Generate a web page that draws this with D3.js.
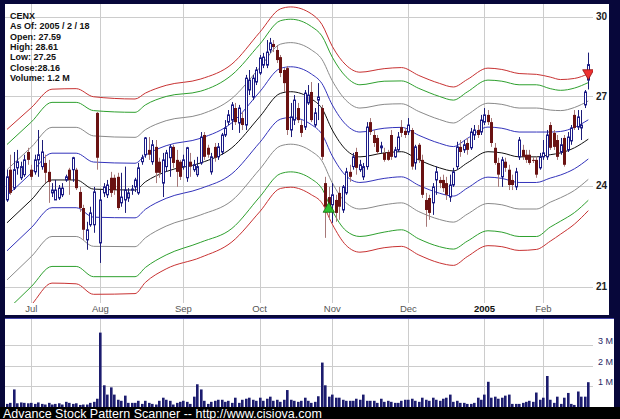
<!DOCTYPE html>
<html><head><meta charset="utf-8">
<script src="https://cdn.jsdelivr.net/npm/d3@7"></script>
<style>html,body{margin:0;padding:0;background:#000;}svg{display:block}</style>
</head><body>
<svg id="chart" width="620" height="419"></svg>
<script>
// ---- data ----
const header = ["CENX","As Of: 2005 / 2 / 18","Open: 27.59","High: 28.61","Low: 27.25","Close:28.16","Volume: 1.2 M"];
const open  = [23.55,24.51,23.92,24.57,24.25,24.35,25.09,24.51,24.44,24.83,24.61,24.73,24.44,23.77,23.55,23.61,23.71,24.18,24.51,24.51,24.51,23.80,23.30,22.34,22.79,22.79,26.42,22.25,23.77,23.71,24.25,24.25,24.28,23.46,23.55,23.61,23.86,23.96,23.77,24.77,25.00,25.16,24.77,25.26,24.77,24.08,24.61,24.90,25.26,24.83,24.77,24.61,24.25,24.77,24.51,24.35,24.73,25.66,25.23,24.44,25.26,24.93,25.09,25.66,26.10,26.17,26.59,26.07,26.24,26.00,27.23,26.98,27.52,27.85,28.14,28.14,28.71,28.94,28.71,28.44,27.96,28.03,25.83,26.17,26.59,26.00,25.93,26.77,27.16,26.00,26.87,26.59,24.08,23.64,23.40,23.55,23.77,23.24,23.77,24.44,24.61,25.09,24.51,24.28,24.61,26.10,25.66,25.56,25.23,25.06,25.09,25.66,24.93,25.16,25.93,25.80,25.76,25.83,24.73,25.33,24.83,23.55,23.61,23.46,24.18,24.18,24.18,24.08,23.64,24.02,24.61,25.26,25.16,25.39,25.23,25.66,25.83,25.76,26.10,26.35,26.10,25.23,24.73,24.28,24.77,24.51,24.18,23.96,24.93,25.16,25.00,25.00,24.83,24.83,24.57,24.93,24.93,26.00,25.73,25.49,25.09,25.56,25.16,25.46,26.35,25.93,25.90,26.70,27.59];
const high  = [24.51,25.00,25.09,25.16,24.77,25.00,25.23,24.67,25.00,25.83,25.49,25.00,24.83,24.08,24.18,24.02,24.08,24.35,24.57,24.93,24.57,23.96,23.40,22.88,23.34,23.96,26.45,23.86,24.08,24.18,24.44,24.35,24.41,24.41,24.61,23.92,24.02,24.25,24.73,25.00,25.59,25.59,25.49,25.49,24.90,25.06,25.16,25.33,25.33,25.16,24.83,25.00,25.26,25.06,24.83,24.93,25.76,25.76,25.33,25.06,25.39,25.39,25.73,26.17,26.52,26.80,26.77,26.70,26.45,27.78,27.96,27.78,28.07,28.52,28.60,29.09,29.17,29.09,28.90,28.52,28.03,28.11,26.77,27.05,26.77,26.17,27.23,27.41,27.52,26.59,27.48,26.70,24.28,23.96,24.08,23.71,23.96,24.02,24.57,24.67,25.06,25.23,24.83,24.73,26.10,26.24,25.83,25.66,25.43,25.23,25.16,25.83,25.26,25.76,26.17,25.90,26.24,25.90,25.33,25.39,25.00,23.77,23.71,24.08,24.61,24.28,24.35,24.28,24.35,24.57,25.43,25.49,25.49,25.56,25.90,26.00,26.00,26.35,26.59,26.52,26.24,25.39,24.90,24.93,24.90,24.67,24.35,24.57,25.59,25.33,25.16,25.16,24.93,24.93,25.06,25.49,25.83,26.10,25.83,25.66,25.56,25.66,25.76,26.00,26.52,26.52,26.52,27.23,28.61];
const low   = [23.49,23.71,23.86,24.35,24.18,24.28,24.67,24.18,24.35,24.28,24.51,24.08,23.46,23.64,23.55,23.55,23.64,24.12,23.71,24.12,23.86,23.18,22.34,22.05,22.73,22.55,24.51,21.67,23.64,23.61,23.64,23.71,23.24,23.34,23.15,23.49,23.71,23.80,23.71,24.67,24.90,24.83,24.67,24.08,24.25,23.64,24.44,24.28,24.57,23.96,24.18,24.51,24.12,24.28,24.44,24.28,24.67,24.83,24.90,24.35,24.77,24.83,25.00,25.59,26.00,25.83,26.00,25.73,25.83,25.83,27.05,26.87,27.41,27.78,28.03,28.03,28.60,28.63,28.22,27.70,27.16,25.66,25.59,26.00,26.07,25.59,25.83,26.70,26.10,25.93,26.17,24.83,22.40,22.94,22.85,22.88,22.94,23.15,23.71,24.12,24.51,24.35,24.44,24.18,24.51,25.66,25.26,25.00,25.06,24.77,24.80,24.83,24.90,25.09,25.59,25.56,25.66,24.51,24.51,24.73,23.61,22.73,22.94,23.09,23.71,23.92,23.80,23.55,23.49,23.96,24.51,24.93,25.06,25.00,25.16,25.49,25.56,25.66,26.00,26.00,25.26,24.67,23.96,23.96,24.44,23.86,23.86,23.86,24.83,24.83,24.73,24.67,24.73,24.25,24.51,24.83,24.83,25.16,25.16,24.83,25.00,24.61,25.09,25.33,25.83,25.83,25.49,26.59,27.25];
const close = [24.28,23.77,24.51,24.77,24.61,24.83,24.83,24.28,24.83,25.00,25.09,24.41,24.12,23.86,23.86,23.92,23.92,24.28,24.18,24.90,23.92,23.30,22.64,22.64,23.15,23.80,24.90,23.55,23.96,24.02,23.77,23.86,23.30,23.64,23.86,23.77,23.89,24.18,24.57,24.90,25.56,25.00,25.33,24.41,24.41,24.83,25.06,25.26,24.73,24.44,24.28,24.83,25.23,24.61,24.67,24.61,25.59,24.93,25.00,24.93,24.90,25.26,25.66,25.90,26.35,26.70,26.10,26.59,26.00,27.66,27.59,27.66,27.96,28.41,28.44,28.63,28.98,28.82,28.33,27.85,27.48,25.83,26.28,26.87,26.17,25.73,27.12,27.05,26.17,26.42,26.98,24.93,23.34,23.24,23.71,23.15,23.34,23.96,24.44,24.28,24.93,24.57,24.67,24.61,25.93,25.76,25.39,25.09,25.29,24.83,24.83,24.93,25.16,25.59,25.73,25.66,26.00,24.61,25.26,24.83,23.71,23.24,23.15,23.96,24.44,24.08,23.92,23.71,24.02,24.44,25.26,25.09,25.33,25.16,25.76,25.83,25.66,26.17,26.35,26.10,25.39,24.73,24.35,24.83,24.57,24.02,24.02,24.44,25.49,24.93,24.83,24.73,24.80,24.35,24.93,25.06,25.66,25.23,25.26,24.93,25.33,24.67,25.59,25.90,25.90,26.28,26.00,27.16,28.16];
const volume = [0.15,0.2,0.85,0.18,0.22,0.2,0.18,0.2,0.15,0.22, 0.15,0.12,0.2,0.12,0.15,0.18,0.12,0.25,0.2,0.15, 0.18,0.1,0.12,0.12,0.2,0.25,0.4,3.6,1.05,0.6, 0.95,0.6,0.35,0.3,0.55,0.2,0.2,0.2,0.3,0.15, 0.3,0.2,0.15,0.12,0.3,0.45,0.35,0.3,0.12,0.2, 0.25,0.3,0.25,0.15,0.5,1.1,0.85,0.3,0.15,0.25, 0.3,0.35,0.35,0.25,0.3,0.2,0.45,0.2,0.35,0.4, 0.45,0.35,0.3,0.45,0.3,0.4,0.5,0.3,0.35,0.25, 0.35,0.82,0.35,0.3,0.25,0.3,0.45,0.3,0.2,0.25, 0.52,2.15,1.05,0.5,0.6,0.45,0.45,0.35,0.3,0.3, 0.3,0.4,0.35,0.6,0.3,0.3,0.3,0.2,0.4,0.25, 0.3,0.25,0.2,0.2,0.3,0.35,0.35,0.4,0.3,0.25, 0.45,0.35,0.3,0.45,0.35,0.3,0.4,0.45,0.6,0.25, 0.3,0.2,0.2,0.15,0.15,0.2,0.45,0.35,0.6,1.22, 0.45,0.5,0.4,0.45,0.55,0.6,0.15,0.15,0.15,0.2, 0.25,0.3,0.25,0.7,0.35,0.45,1.5,0.35,0.2,0.5, 0.15,0.45,0.68,0.15,0.1,0.75,0.5,0.5,1.2];
const monthLabels = ["Jul","Aug","Sep","Oct","Nov","Dec","2005","Feb"];
const monthStart  = [7,27,51,73,94,116,138,155];
const priceTicks  = [21,24,27,30];
const volumeTicks = [1,2,3];
// envelope indicator (centre line, unit deviation, outer deviation) sampled along the days
const bandIdx   = [0,7,13,20,25,37,40,46,56,65,73,79,82,88,91,94,98,102,109,114,119,125,129,133,139,143,148,153,157,160,164,168];
const bandMid   = [22.85,23.55,24.18,24.18,23.89,23.86,24.12,24.45,24.73,25.23,26.28,27.11,27.17,26.91,26.58,25.83,25.16,24.93,25.06,25.10,24.83,24.57,24.47,24.73,25.10,25.06,24.93,24.93,25.00,25.06,25.23,25.52];
const bandDev   = [.83,.85,.87,.87,.87,.86,.86,.85,.82,.85,.88,.91,.91,.90,.89,.87,.85,.83,.83,.82,.82,.81,.80,.81,.83,.83,.83,.83,.76,.72,.69,.66];
const bandOuter = [3.0,3.05,3.08,3.1,3.1,3.05,3.0,2.95,2.9,2.95,3.1,3.2,3.22,3.2,3.12,3.02,2.98,2.95,2.95,2.95,2.93,2.9,2.87,2.88,2.93,2.92,2.9,2.87,2.7,2.55,2.42,2.3];
const signalIdx   = [93,168];
const signalPrice = [23.27,27.85];
const signalDir   = ["up","down"];
const footer = "Advance Stock Pattern Scanner -- http://www.cisiova.com";

// ---- drawing ----
const svg = d3.select("#chart");
const FONT = "Arial, 'Liberation Sans', sans-serif";
const n = close.length;
const x = d3.scaleLinear().domain([0, n-1]).range([7, 588.3]);
const y = d3.scaleLog().domain([21,30]).range([286.7,16.7]);
const yv = d3.scaleLinear().domain([0,3]).range([407,345]);

svg.append("rect").attr("width",620).attr("height",419).attr("fill","#07073a");
svg.append("rect").attr("x",0).attr("y",407).attr("width",620).attr("height",12).attr("fill","#000000");
// main panel
svg.append("rect").attr("x",5).attr("y",4).attr("width",604).attr("height",311).attr("fill","#ffffff");
// volume panel
svg.append("rect").attr("x",5).attr("y",318).attr("width",609).attr("height",1.2).attr("fill","#4444aa");
svg.append("rect").attr("x",5).attr("y",319).attr("width",609).attr("height",88).attr("fill","#ffffff");

const defs = svg.append("defs");
defs.append("clipPath").attr("id","plotClip").append("rect").attr("x",5).attr("y",4).attr("width",588).attr("height",299);

const grid = svg.append("g").attr("stroke","#cccccc").attr("stroke-width",1).attr("shape-rendering","crispEdges");
priceTicks.forEach(p=>{
  grid.append("line").attr("x1",5).attr("x2",593).attr("y1",Math.round(y(p))+0.5).attr("y2",Math.round(y(p))+0.5);
});
monthStart.forEach(i=>{
  const xx = Math.round(x(i))+0.5;
  grid.append("line").attr("x1",xx).attr("x2",xx).attr("y1",4).attr("y2",303);
  grid.append("line").attr("x1",xx).attr("x2",xx).attr("y1",319).attr("y2",407);
});
volumeTicks.forEach(v=>{
  grid.append("line").attr("x1",5).attr("x2",593).attr("y1",Math.round(yv(v))+0.5).attr("y2",Math.round(yv(v))+0.5);
});

// price labels
svg.append("g").selectAll("text").data(priceTicks).join("text")
  .attr("x",596).attr("y",p=>y(p)+3.5).text(p=>p)
  .attr("font-family",FONT).attr("font-size",10).attr("font-weight","bold").attr("fill","#222");
// month labels
svg.append("g").selectAll("text").data(monthLabels).join("text")
  .attr("x",(d,k)=>x(monthStart[k])).attr("y",312).attr("text-anchor","middle").text(d=>d)
  .attr("font-family",FONT).attr("font-size",9.5)
  .attr("font-weight",d=>d==="2005"?"bold":"normal")
  .attr("fill",d=>d==="2005"?"#111":"#555");
// volume labels
svg.append("g").selectAll("text").data(volumeTicks).join("text")
  .attr("x",598).attr("y",v=>yv(v)-1).text(v=>v+" M")
  .attr("font-family",FONT).attr("font-size",9).attr("fill","#2a2a66");

// bands
const plot = svg.append("g").attr("clip-path","url(#plotClip)");
const bandPts = bandIdx.map((d,k)=>({i:d,m:bandMid[k],s:bandDev[k],o:bandOuter[k]}));
const bandDefs = [
  {f:d=>d.m+d.o, c:"#c83232"},{f:d=>d.m-d.o, c:"#c83232"},
  {f:d=>d.m+3*d.s, c:"#2ea02e"},{f:d=>d.m-3*d.s, c:"#2ea02e"},
  {f:d=>d.m+2*d.s, c:"#8a8a8a"},{f:d=>d.m-2*d.s, c:"#8a8a8a"},
  {f:d=>d.m+d.s, c:"#3333bb"},{f:d=>d.m-d.s, c:"#3333bb"},
  {f:d=>d.m, c:"#111111"}
];
bandDefs.forEach(b=>{
  const line = d3.line().x(d=>x(d.i)).y(d=>y(b.f(d))).curve(d3.curveMonotoneX);
  plot.append("path").datum(bandPts).attr("d",line).attr("fill","none").attr("stroke",b.c).attr("stroke-width",1);
});

// candles
const kind = i => close[i] < open[i] ? "down" : (i>0 && close[i] < close[i-1] ? "weak" : "up");
const cg = plot.append("g");
for (let i=0;i<n;i++){
  const k = kind(i);
  const cx = Math.round(x(i))+0.5;
  cg.append("line").attr("x1",cx).attr("x2",cx).attr("y1",y(high[i])).attr("y2",y(low[i]))
    .attr("stroke", k==="down" ? "#a67878" : "#1c1c78").attr("stroke-width",1);
  const top = y(Math.max(open[i],close[i])), bot = y(Math.min(open[i],close[i]));
  const h = Math.max(1, bot-top);
  if (k==="down"){
    cg.append("rect").attr("x",cx-1.5).attr("y",top).attr("width",3).attr("height",h).attr("fill","#6a1212");
  } else {
    cg.append("rect").attr("x",cx-1).attr("y",top).attr("width",2).attr("height",h)
      .attr("fill", k==="weak" ? "#c4c4d4" : "#ffffff").attr("stroke","#1c1c88").attr("stroke-width",1);
  }
}
// signals
signalIdx.forEach((i,k)=>{
  const up = signalDir[k]==="up";
  plot.append("path").attr("d", d3.symbol(d3.symbolTriangle, 55)())
    .attr("transform",`translate(${x(i)},${y(signalPrice[k])}) rotate(${up?0:180})`)
    .attr("fill", up ? "#2ec02e" : "#ee3030").attr("stroke", up ? "#0a6a0a" : "#8a1010").attr("stroke-width",0.8);
});

// volume bars
svg.append("g").selectAll("rect").data(volume).join("rect")
  .attr("x",(d,i)=>Math.round(x(i))-1).attr("width",2.6)
  .attr("y",d=>yv(d)).attr("height",d=>407-yv(d)).attr("fill","#1c1c6e");

// header
svg.append("g").selectAll("text").data(header).join("text")
  .attr("x",10).attr("y",(d,k)=>19+k*10.3).text(d=>d)
  .attr("font-family",FONT).attr("font-size",9).attr("font-weight","bold").attr("fill","#111");
// footer
svg.append("text").attr("x",3).attr("y",417.5).text(footer)
  .attr("font-family",FONT).attr("font-size",12.5).attr("fill","#ffffff");
</script>
</body></html>
